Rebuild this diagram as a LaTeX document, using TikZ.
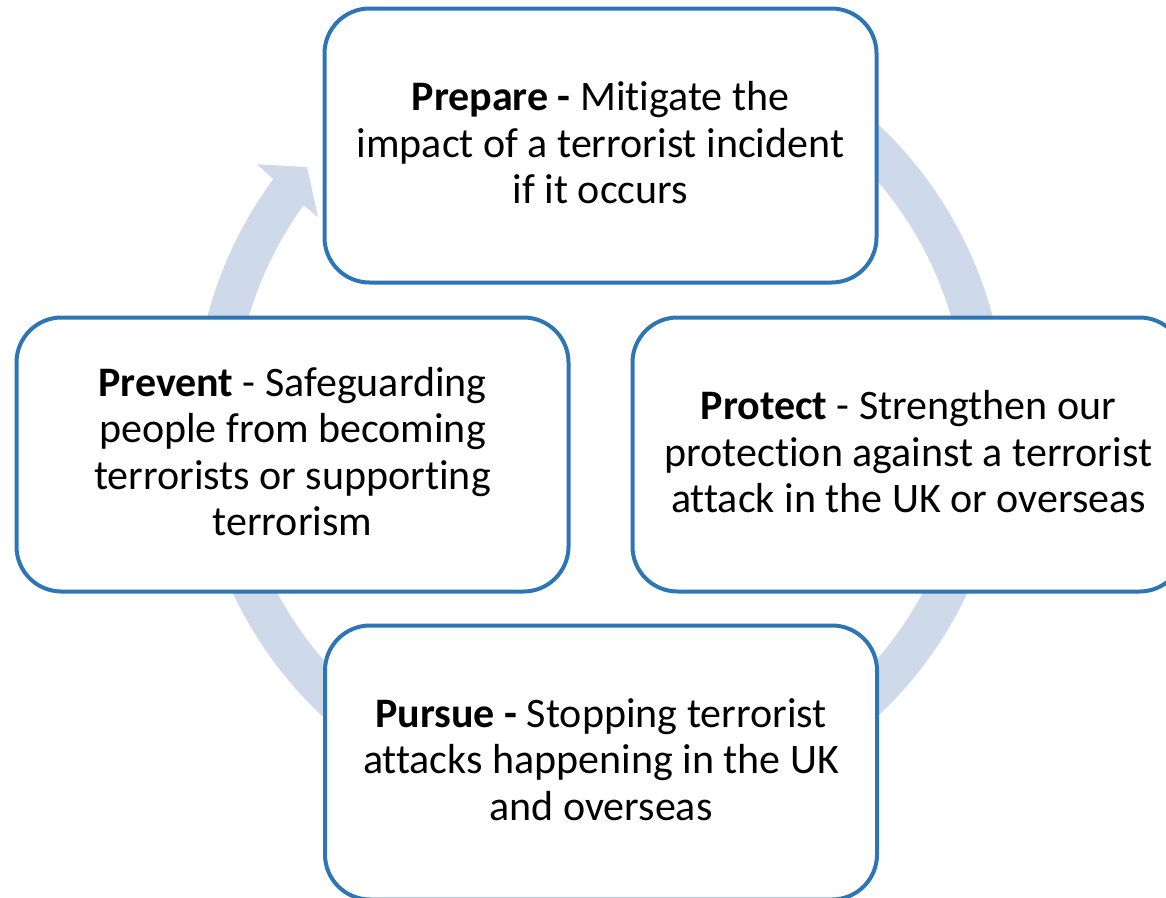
\documentclass[tikz,border=0pt]{standalone}
\usepackage{fontspec}
\setmainfont{Carlito}[Ligatures=NoCommon]
\definecolor{ringblue}{HTML}{CED9EA}
\definecolor{boxblue}{HTML}{2E75B6}
\begin{document}
\begin{tikzpicture}[x=1pt,y=1pt,
  stagebox/.style={draw=boxblue, line width=4pt, fill=white, rounded corners=45pt,
    minimum width=552pt, minimum height=274pt, inner sep=0pt, align=center,
    font=\fontsize{42}{46.3}\selectfont, text=black,
    execute at end node={\rule[-6pt]{0pt}{0pt}}}]
\useasboundingbox (0,0) rectangle (1166,-897);
\clip (0,0) rectangle (1166,-897);

% cycle ring with its arrow head, behind the boxes
\begin{scope}[shift={(600,-420)}]
  \fill[ringblue]
    (80:406) arc[start angle=80, end angle=-216.4, radius=406]
    -- (143.3:428) -- (139.2:387) -- (144.25:347.5) -- (144.1:366)
    arc[start angle=-215.9, end angle=80, radius=366] -- cycle;
\end{scope}

\node[stagebox] (prepare) at (600.5,-145.5)
  {\textbf{Prepare -} Mitigate the\\impact of a terrorist incident\\if it occurs};
\node[stagebox] (prevent) at (292.5,-454.5)
  {\textbf{Prevent} - Safeguarding\\people from becoming\\terrorists or supporting\\terrorism};
\node[stagebox] (protect) at (908.5,-454.5)
  {\textbf{Protect} - Strengthen our\\protection against a terrorist\\attack in the UK or overseas};
\node[stagebox] (pursue) at (601,-762.5)
  {\textbf{Pursue -} Stopping terrorist\\attacks happening in the UK\\and overseas};
\end{tikzpicture}
\end{document}
